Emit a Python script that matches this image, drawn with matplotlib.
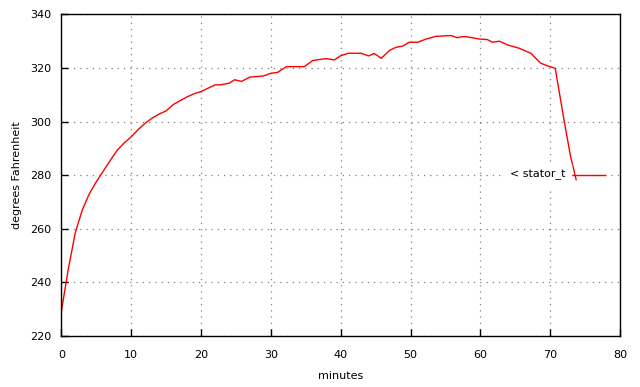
"""
Stator temperature over time (gnuplot style)
"""

from matplotlib import pyplot as plt

# readings taken off the chart
minutes = [0, 1, 2, 3, 4, 5, 6, 7, 8, 9, 10, 11, 12, 13, 14, 15, 16, 17, 18,
           19, 20, 22, 22.7, 24, 24.8, 25.8, 27, 28.9, 30, 31, 32.2, 34.8, 36,
           37.9, 39.1, 40, 41.1, 42.9, 44, 44.8, 45.8, 47, 47.9, 48.9, 49.8,
           51, 52.2, 53.6, 55.8, 56.7, 57.4, 57.9, 59.9, 61, 61.7, 62.7, 63.9,
           65.5, 67.2, 68.6, 69.6, 70.7, 72, 72.9, 73.7]
stator_t = [229, 245, 258.5, 267, 273, 277.5, 281.5, 285.5, 289.3, 292,
            294.3, 297, 299.4, 301.3, 302.8, 304, 306.3, 307.8, 309.2, 310.4,
            311.2, 313.7, 313.7, 314.3, 315.6, 315, 316.6, 317, 318, 318.4,
            320.5, 320.5, 322.8, 323.5, 323, 324.6, 325.5, 325.5, 324.5, 325.4,
            323.6, 326.6, 327.7, 328.2, 329.6, 329.6, 330.8, 331.8, 332.1,
            331.3, 331.7, 331.7, 330.8, 330.6, 329.6, 330, 328.6, 327.4, 325.5,
            321.8, 320.8, 319.9, 300, 287, 278.3]

x_ticks = [0, 10, 20, 30, 40, 50, 60, 70, 80]
y_ticks = [220, 240, 260, 280, 300, 320, 340]

plt.rcParams['font.family'] = ['DejaVu Sans']
plt.rcParams['font.size'] = 8

fig = plt.figure(figsize=(6.4, 3.87), dpi=100)
ax = fig.add_axes([0.0958, 0.132, 0.8732, 0.8308])

ax.plot(minutes, stator_t, color='red', linewidth=1.0)

ax.set_xlim(0, 80)
ax.set_ylim(220, 340)
ax.set_xticks(x_ticks)
ax.set_yticks(y_ticks)
ax.tick_params(direction='in', length=5, width=1, top=False, right=False,
               colors='black', labelsize=8)
ax.tick_params(axis='x', pad=10)
ax.tick_params(axis='y', pad=7)
for s in ax.spines.values():
    s.set_linewidth(1.0)

ax.grid(True, color='#808080', linestyle=(0, (1, 4)), linewidth=0.9)

ax.set_xlabel('minutes', fontsize=8, labelpad=8)
ax.set_ylabel('degrees Fahrenheit', fontsize=8, labelpad=6)

# gnuplot style key: text then line sample
ax.plot([73.0, 77.8], [280, 280], color='red', linewidth=1.0)
ax.text(72.2, 280, '< stator_t', ha='right', va='center', fontsize=8,
        backgroundcolor='white')

fig.savefig('out.png', dpi=100)
